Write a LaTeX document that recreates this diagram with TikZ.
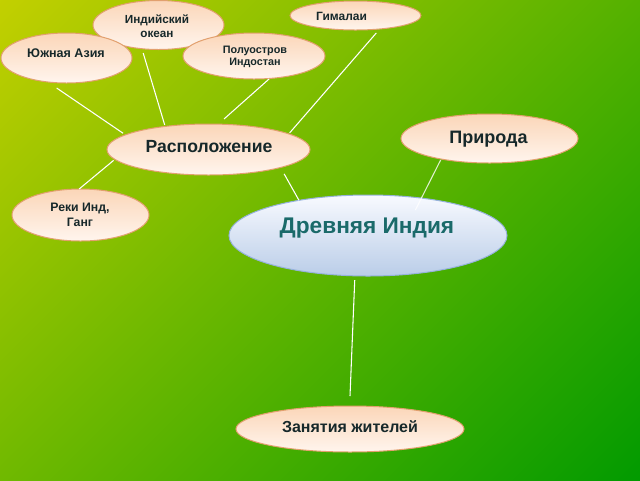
\documentclass[tikz,border=0pt]{standalone}
\usepackage{fontspec}
\setmainfont{Liberation Sans}
\usetikzlibrary{shapes.geometric}
\definecolor{bgA}{RGB}{196,208,0}
\definecolor{bgB}{RGB}{0,154,0}
\definecolor{peachT}{RGB}{251,214,184}
\definecolor{peachB}{RGB}{255,245,238}
\definecolor{peachLine}{RGB}{226,160,110}
\definecolor{blueT}{RGB}{248,250,255}
\definecolor{blueB}{RGB}{186,205,232}
\definecolor{blueLine}{RGB}{150,178,220}
\definecolor{txtc}{RGB}{22,40,42}
\definecolor{tealc}{RGB}{26,106,106}
\pgfdeclarehorizontalshading{bgshade}{600bp}{color(0bp)=(bgA); color(600bp)=(bgB)}
\begin{document}
\begin{tikzpicture}[x=0.75pt,y=-0.75pt,
  bub/.style={ellipse, draw=peachLine, line width=0.75pt, top color=peachT, bottom color=peachB, inner sep=0pt, outer sep=0pt},
  mainbub/.style={ellipse, draw=blueLine, line width=0.75pt, top color=blueT, bottom color=blueB, inner sep=0pt, outer sep=0pt},
  txt/.style={text=txtc, inner sep=0pt, outer sep=0pt},
  conn/.style={draw=white, line width=0.8pt}]
\useasboundingbox (0,0) rectangle (640,480);
\begin{scope}
  \clip (0,0) rectangle (640,480);
  \node[inner sep=0pt, outer sep=0pt, rotate=-45] (bg) at (320,240) {\pgfuseshading{bgshade}};
\end{scope}
% bubbles
\node[bub, minimum width=98.25pt, minimum height=36.75pt] (io) at (158.5,25) {};
\node[bub, minimum width=98.25pt, minimum height=21.75pt] (him) at (355.5,15.5) {};
\node[bub, minimum width=98.25pt, minimum height=37.5pt] (sa) at (66.5,58) {};
\node[bub, minimum width=106.5pt, minimum height=34.5pt] (pi) at (254,56) {};
\node[bub, minimum width=152.25pt, minimum height=38.25pt] (loc) at (208.5,149.5) {};
\node[bub, minimum width=132.75pt, minimum height=36.75pt] (nat) at (489.5,138.5) {};
\node[bub, minimum width=102.75pt, minimum height=39pt] (riv) at (80.5,215) {};
\node[mainbub, minimum width=208.5pt, minimum height=60.75pt] (main) at (368,235.5) {};
\node[bub, minimum width=171pt, minimum height=34.5pt] (occ) at (350,429) {};
% texts
\node[txt, align=center, font=\bfseries\fontsize{8.8}{10.5}\selectfont] (tio) at (157,25.75) {Индийский\\океан};
\node[txt, anchor=base, font=\bfseries\fontsize{9}{11}\selectfont] (thim) at (341.5,20.7) {Гималаи};
\node[txt, anchor=base, font=\bfseries\fontsize{9.4}{11}\selectfont] (tsa) at (66,57.3) {Южная Азия};
\node[txt, align=center, font=\bfseries\fontsize{8.1}{9}\selectfont] (tpi) at (255,57) {Полуостров\\Индостан};
\node[txt, anchor=base, font=\bfseries\fontsize{13.2}{16}\selectfont] (tloc) at (209,152.7) {Расположение};
\node[txt, anchor=base, font=\bfseries\fontsize{13.5}{16}\selectfont] (tnat) at (488.5,143) {Природа};
\node[txt, align=center, font=\bfseries\fontsize{9.2}{11.25}\selectfont] (triv) at (80,215) {Реки Инд,\\Ганг};
\node[txt, text=tealc, anchor=base, font=\bfseries\fontsize{17}{20}\selectfont] (tmain) at (367,233.5) {Древняя Индия};
\node[txt, anchor=base, font=\bfseries\fontsize{12}{14}\selectfont] (tocc) at (350,432.3) {Занятия жителей};
% connectors
\draw[conn, shorten <=8.1pt, shorten >=2.1pt] (sa.232) -- (loc.170);
\draw[conn, shorten <=3.4pt, shorten >=1.2pt] (io.235) -- (loc.152);
\draw[conn, shorten <=0.6pt, shorten >=5.8pt] (pi.305) -- (loc.69);
\draw[conn, shorten <=4pt, shorten >=1pt] (him.331) -- (loc.11);
\draw[conn, shorten >=1.2pt] (riv.93) -- (loc.186);
\draw[conn, shorten <=5.5pt] (loc.346) -- (main.153);
\draw[conn, opacity=0.8, shorten <=0.8pt, shorten >=-10pt] (nat.203) -- (main.35);
\draw[conn, shorten <=3.2pt, shorten >=7.5pt] (main.252) -- (occ.91);
\end{tikzpicture}
\end{document}
